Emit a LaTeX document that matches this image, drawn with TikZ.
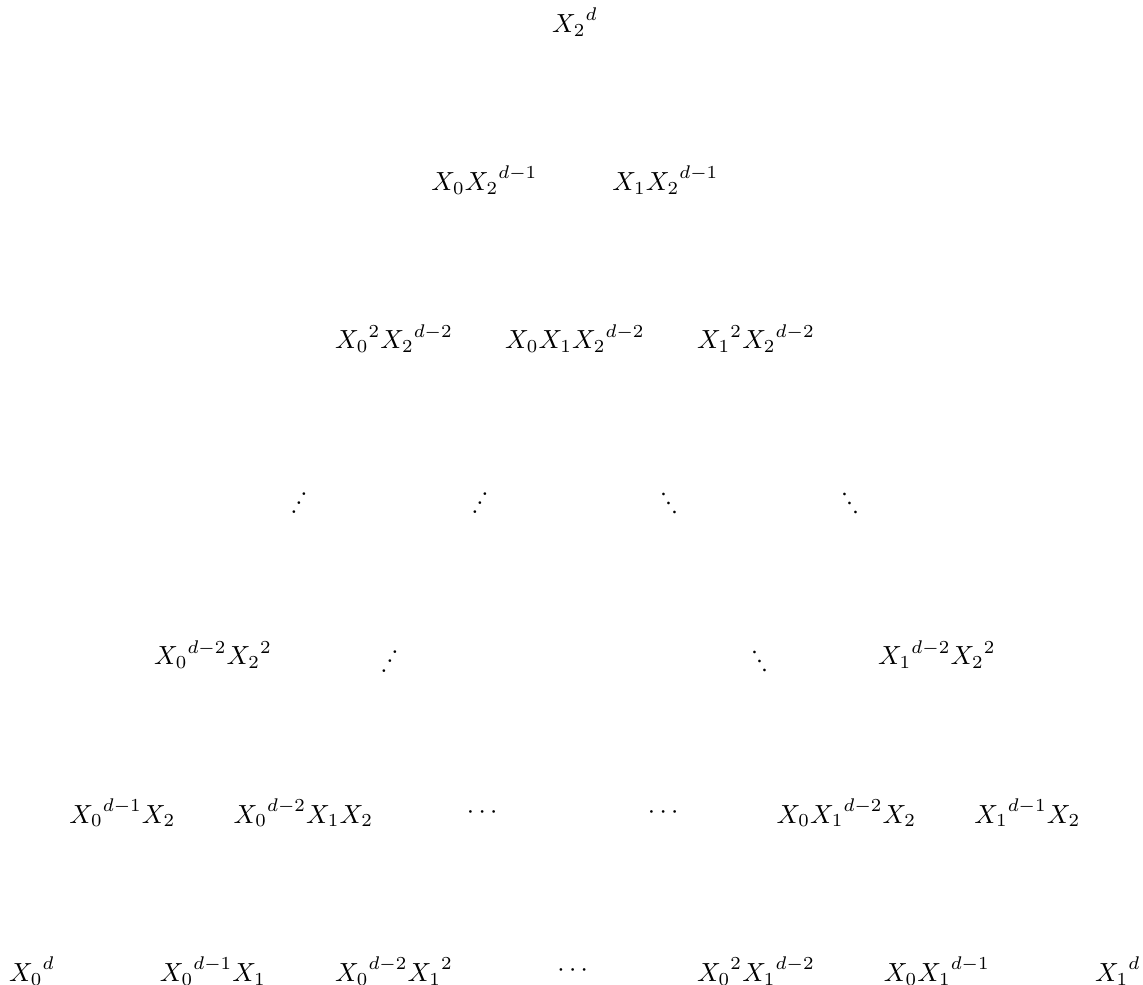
\documentclass[tikz,border=0pt]{standalone}
\usepackage{amsmath,amssymb}
\usepackage{graphicx}
\usepackage{tikz}
\newcommand{\updots}{\rotatebox{-30}{$\vdots$}}
\newcommand{\downdots}{\rotatebox{30}{$\vdots$}}
\tikzset{
  mono/.style={inner sep=1pt, font=\normalsize},
  gapdots/.style={inner sep=1pt},
}

\begin{document}
\begin{tikzpicture}[x=1.2136cm, y=2.1215cm]
    \useasboundingbox (-0.3535,0.139) rectangle (12.278,-6.0877);
    % top row
    \node[mono] (t) at (6,0) {${X_2}^d$};
    % second row
    \node[mono] (a0) at (5,-1) {$X_0{X_2}^{d-1}$};
    \node[mono] (a1) at (7,-1) {$X_1{X_2}^{d-1}$};
    % third row
    \node[mono] (b0) at (4,-2) {${X_0}^2{X_2}^{d-2}$};
    \node[mono] (b1) at (6,-2) {$X_0X_1{X_2}^{d-2}$};
    \node[mono] (b2) at (8,-2) {${X_1}^2{X_2}^{d-2}$};
    % dots
    \node[gapdots] (c0) at (3,-3) {\updots};
    \node[gapdots] (c1) at (5,-3) {\updots};
    \node[gapdots] (c2) at (7,-3) {\downdots};
    \node[gapdots] (c3) at (9,-3) {\downdots};
    % fifth row
    \node[mono] (d0) at (2,-4) {${X_0}^{d-2}{X_2}^2$};
    \node[gapdots] (d1) at (4,-4) {\updots};
    \node[gapdots] (d2) at (8,-4) {\downdots};
    \node[mono] (d3) at (10,-4) {${X_1}^{d-2}{X_2}^2$};
    % sixth row
    \node[mono] (e0) at (1,-5) {${X_0}^{d-1}X_2$};
    \node[mono] (e1) at (3,-5) {${X_0}^{d-2}X_1X_2$};
    \node[gapdots] (e2) at (5,-5) {$\cdots$};
    \node[gapdots] (e3) at (7,-5) {$\cdots$};
    \node[mono] (e4) at (9,-5) {$X_0{X_1}^{d-2}X_2$};
    \node[mono] (e5) at (11,-5) {${X_1}^{d-1}X_2$};
    % bottom row
    \node[mono] (f0) at (0,-6) {${X_0}^d$};
    \node[mono] (f1) at (2,-6) {${X_0}^{d-1}X_1$};
    \node[mono] (f2) at (4,-6) {${X_0}^{d-2}{X_1}^2$};
    \node[gapdots] (f3) at (6,-6) {$\cdots$};
    \node[mono] (f4) at (8,-6) {${X_0}^2{X_1}^{d-2}$};
    \node[mono] (f5) at (10,-6) {$X_0{X_1}^{d-1}$};
    \node[mono] (f6) at (12,-6) {${X_1}^d$};
\end{tikzpicture}
\end{document}
